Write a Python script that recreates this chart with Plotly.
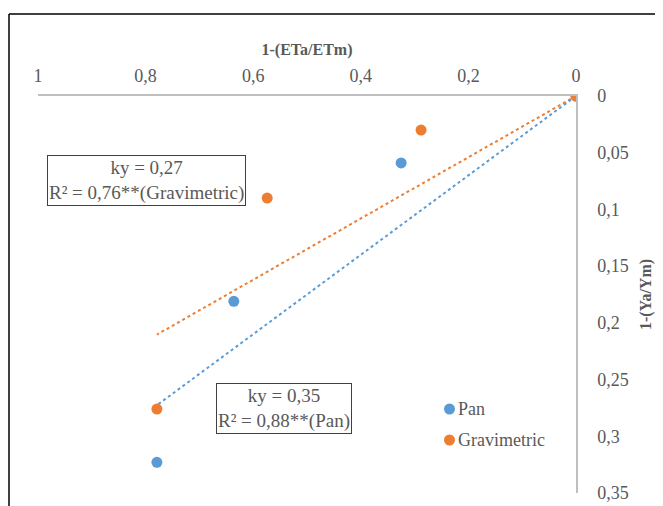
import plotly.graph_objects as go

# Data
pan_x = [0, 0.325, 0.636, 0.779]
pan_y = [0, 0.059, 0.181, 0.323]
grav_x = [0, 0.288, 0.574, 0.779]
grav_y = [0, 0.030, 0.090, 0.276]
ky_pan = 0.35
ky_grav = 0.27
trend_x = [0, 0.779]

x_ticks = [1, 0.8, 0.6, 0.4, 0.2, 0]
x_tick_labels = ["1", "0,8", "0,6", "0,4", "0,2", "0"]
y_ticks = [0, 0.05, 0.1, 0.15, 0.2, 0.25, 0.3, 0.35]
y_tick_labels = ["0", "0,05", "0,1", "0,15", "0,2", "0,25", "0,3", "0,35"]
series_names = ["Pan", "Gravimetric"]

BLUE = "#5B9BD5"
ORANGE = "#ED7D31"
GRAY = "#595959"
FONT = "Liberation Serif"

OFF = 8  # page body margin
FW, FH = 663 - OFF, 506 - OFF
L, R, T, B = 38 - OFF, 576 - OFF, 96 - OFF, 493 - OFF
W, H = R - L, B - T


def px(x):
    return (x - OFF - L) / W


def py(y):
    return (B - (y - OFF)) / H


fig = go.Figure()
fig.add_trace(go.Scatter(x=trend_x, y=[ky_grav * v for v in trend_x], mode="lines",
                         line=dict(color=ORANGE, width=2, dash="dot"), showlegend=False, hoverinfo="skip"))
fig.add_trace(go.Scatter(x=trend_x, y=[ky_pan * v for v in trend_x], mode="lines",
                         line=dict(color=BLUE, width=2, dash="dot"), showlegend=False, hoverinfo="skip"))
fig.add_trace(go.Scatter(x=pan_x, y=pan_y, mode="markers", name=series_names[0],
                         marker=dict(color=BLUE, size=11), showlegend=False))
fig.add_trace(go.Scatter(x=grav_x, y=grav_y, mode="markers", name=series_names[1],
                         marker=dict(color=ORANGE, size=11), showlegend=False))

legend_anns = []
legend_shapes = []
for i, (name, col) in enumerate(zip(series_names, [BLUE, ORANGE])):
    cy = 409 + 31 * i
    legend_anns.append(dict(
        xref="paper", yref="paper", x=px(456), y=py(cy), xanchor="left", yanchor="middle",
        text=name, showarrow=False, font=dict(family=FONT, size=18, color=GRAY)))
    legend_shapes.append(dict(
        type="circle", xref="paper", yref="paper", x0=px(444), x1=px(455),
        y0=py(cy - 5.5), y1=py(cy + 5.5), fillcolor=col, line=dict(width=0)))

fig.update_layout(
    width=FW, height=FH,
    margin=dict(l=L, r=FW - R, t=T, b=FH - B),
    paper_bgcolor="white", plot_bgcolor="white",
    font=dict(family=FONT, size=18, color=GRAY),
    showlegend=False,
    xaxis=dict(range=[1, 0], side="top", tickvals=x_ticks, ticktext=x_tick_labels, automargin=False,
               showgrid=False, zeroline=False, showline=True, linecolor="#BFBFBF", linewidth=1.5,
               ticks="outside", ticklen=5, tickcolor="rgba(0,0,0,0)",
               tickfont=dict(family=FONT, size=18, color=GRAY),
               title=dict(text="<b>1-(ETa/ETm)</b>", font=dict(family=FONT, size=16, color=GRAY), standoff=6)),
    yaxis=dict(range=[0.35, 0], side="right", tickvals=y_ticks, ticktext=y_tick_labels, automargin=False,
               showgrid=False, zeroline=False, showline=True, linecolor="#BFBFBF", linewidth=1.5,
               ticks="outside", ticklen=16, tickcolor="rgba(0,0,0,0)",
               tickfont=dict(family=FONT, size=18, color=GRAY),
               title=dict(text="<b>1-(Ya/Ym)</b>", font=dict(family=FONT, size=16, color=GRAY), standoff=12)),
    annotations=[
        dict(xref="paper", yref="paper", x=px(146), y=py(180), xanchor="center", yanchor="middle",
             text="ky = 0,27<br>R² = 0,76**(Gravimetric)", showarrow=False,
             font=dict(family=FONT, size=19, color=GRAY), bordercolor="#404040", borderwidth=1,
             borderpad=1, bgcolor="white", align="center"),
        dict(xref="paper", yref="paper", x=px(284), y=py(408), xanchor="center", yanchor="middle",
             text="ky = 0,35<br>R² = 0,88**(Pan)", showarrow=False,
             font=dict(family=FONT, size=19, color=GRAY), bordercolor="#404040", borderwidth=1,
             borderpad=1, bgcolor="white", align="center"),
    ] + legend_anns,
    shapes=[
        dict(type="line", xref="paper", yref="paper", x0=px(9), x1=px(680),
             y0=py(14), y1=py(14), line=dict(color="black", width=1.5)),
        dict(type="line", xref="paper", yref="paper", x0=px(9), x1=px(9),
             y0=py(14), y1=py(520), line=dict(color="black", width=1.5)),
    ] + legend_shapes,
)

fig.write_html("out.html")
